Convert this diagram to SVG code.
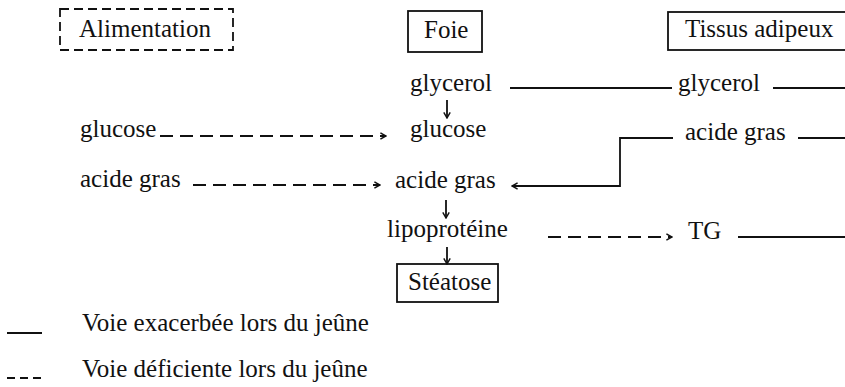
<svg xmlns="http://www.w3.org/2000/svg" width="845" height="387" viewBox="0 0 845 387">
<style>
text{font-family:"Liberation Serif","Tinos","Times New Roman","DejaVu Serif",serif;font-size:25px;fill:#111}
.box{fill:none;stroke:#111;stroke-width:1.8}
.dbox{fill:none;stroke:#111;stroke-width:1.8;stroke-dasharray:9 5}
.s{fill:none;stroke:#111;stroke-width:1.8}
.d{fill:none;stroke:#111;stroke-width:1.8;stroke-dasharray:13 7}
.a{marker-end:url(#ah)}
</style>
<defs>
<marker id="ah" viewBox="0 0 10 10" refX="9" refY="5" markerWidth="8" markerHeight="8" markerUnits="userSpaceOnUse" orient="auto">
<path d="M2,1 L9,5 L2,9" fill="none" stroke="#111" stroke-width="1.8"/>
</marker>
</defs>
<rect width="845" height="387" fill="#fff"/>
<g font-family="Liberation Serif, serif">
<g id="alimentation"><rect class="dbox" x="60" y="9" width="173" height="41"/><text x="79" y="37">Alimentation</text></g>
<g id="foie"><rect class="box" x="408" y="11" width="74" height="41"/><text x="424" y="38">Foie</text></g>
<g id="tissus"><rect class="box" x="668" y="12" width="190" height="38"/><text x="685" y="37">Tissus adipeux</text></g>
<g id="glycerol-foie"><text x="410" y="91">glycerol</text></g>
<g id="glycerol-tissus"><text x="678" y="91">glycerol</text></g>
<g id="glucose-alim"><text x="80" y="137">glucose</text></g>
<g id="glucose-foie"><text x="410" y="137">glucose</text></g>
<g id="acide-tissus"><text x="685" y="140">acide gras</text></g>
<g id="acide-alim"><text x="80" y="187">acide gras</text></g>
<g id="acide-foie"><text x="395" y="188">acide gras</text></g>
<g id="lipoproteine"><text x="387" y="237">lipoprotéine</text></g>
<g id="tg"><text x="688" y="239">TG</text></g>
<g id="steatose"><rect class="box" x="397" y="264" width="101" height="38"/><text x="408" y="290">Stéatose</text></g>
</g>
<g id="connectors">
<line class="s" x1="510" y1="88" x2="672" y2="88"/>
<line class="s" x1="773" y1="88" x2="845" y2="88"/>
<line class="s a" x1="447" y1="100" x2="447" y2="118"/>
<line class="d a" x1="160" y1="136" x2="386" y2="136"/>
<line class="s" x1="798" y1="138" x2="845" y2="138"/>
<polyline class="s a" points="673,138 620,138 620,186 512,186"/>
<line class="d a" x1="193" y1="185" x2="380" y2="185"/>
<line class="s a" x1="446" y1="200" x2="446" y2="218"/>
<line class="s a" x1="447" y1="247" x2="447" y2="264"/>
<line class="d a" x1="548" y1="237" x2="672" y2="237"/>
<line class="s" x1="738" y1="237" x2="845" y2="237"/>
</g>
<g id="legend">
<line class="s" x1="7" y1="333" x2="42" y2="333"/>
<text x="82" y="331">Voie exacerbée lors du jeûne</text>
<line class="s" x1="7" y1="378" x2="42" y2="378" stroke-dasharray="8 5"/>
<text x="82" y="377">Voie déficiente lors du jeûne</text>
</g>
</svg>
